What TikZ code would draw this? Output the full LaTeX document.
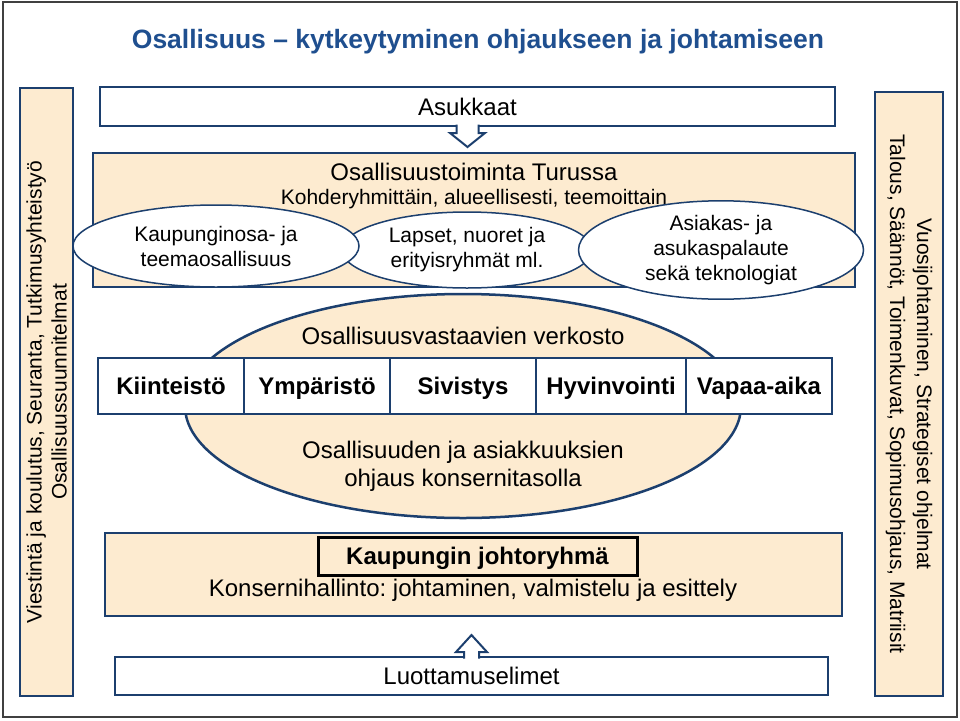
\documentclass[tikz,border=0pt]{standalone}
\usepackage{fontspec}
\setmainfont{Liberation Sans}
\usepackage{xcolor}
\definecolor{cLine}{HTML}{1C3F6E}
\definecolor{cTitle}{HTML}{1F4F8F}
\definecolor{cBeige}{HTML}{FDEBD0}
\definecolor{cFrame}{HTML}{404040}
\usepackage{tikz}
\usetikzlibrary{positioning,shapes.geometric,calc}
\newcommand{\fsSmall}{\fontsize{21}{25}\selectfont}
\newcommand{\fsMain}{\fontsize{24}{28}\selectfont}
\newcommand{\fsHead}{\fontsize{26.5}{30}\selectfont\bfseries}
\frenchspacing
\tikzset{
  box-plain/.style={draw=cLine,line width=2.5pt,fill=white,outer sep=0pt,
    inner sep=0pt,align=center,font=\fsMain},
  box-beige/.style={box-plain,fill=cBeige},
  node-oval/.style={ellipse,draw=cLine,line width=1.5pt,fill=white,
    inner sep=0pt,outer sep=0pt,align=center,font=\fsSmall},
  node-unit/.style={box-plain,minimum width=146pt,minimum height=56pt,
    text height=20pt,text depth=2.8pt,font=\fsMain\bfseries},
  node-text/.style={inner sep=0pt,align=center,font=\fsMain},
  arrow-hollow/.style={draw=cLine,line width=2pt,fill=white,line join=miter},
}
\begin{document}
\begin{tikzpicture}[x=1pt,y=-1pt,node distance=0pt]
  \useasboundingbox (0,0) rectangle (960,720);
  \draw[cFrame,line width=1.5pt] (3,2) rectangle (957,717);
  \node[node-text,font=\fsHead,text=cTitle] (title) at (478,42)
       {Osallisuus -- kytkeytyminen ohjaukseen ja johtamiseen};

  % sivupalkit
  \node[box-beige,rotate=90,minimum width=608pt,minimum height=53pt,
        font=\fsSmall] (lbar) at (46.5,392)
       {Viestintä ja koulutus, Seuranta, Tutkimusyhteistyö\\Osallisuussuunnitelmat};
  \node[box-beige,rotate=-90,minimum width=604pt,minimum height=68pt,
        font=\fontsize{21}{27}\selectfont] (rbar) at (909,394)
       {Vuosijohtaminen, Strategiset ohjelmat\\Talous, Säännöt, Toimenkuvat, Sopimusohjaus, Matriisit};

  % ylaosa
  \node[box-plain,minimum width=735pt,minimum height=39pt] (asuk) at (467.5,106.5) {Asukkaat};
  \node[box-beige,minimum width=762pt,minimum height=134pt] (toim) at (474,220) {};
  \node[node-text] (toim-title) at (474,172) {Osallisuustoiminta Turussa};
  \node[node-text,font=\fsSmall] (toim-sub) at (474,199)
       {Kohderyhmittäin, alueellisesti, teemoittain};
  \node[node-oval,minimum width=250pt,minimum height=76pt] (lapset) at (467,250)
       {Lapset, nuoret ja\\erityisryhmät ml.};
  \node[node-oval,minimum width=286pt,minimum height=82pt] (kaup) at (216,246)
       {Kaupunginosa- ja\\teemaosallisuus};
  \node[node-oval,minimum width=285pt,minimum height=91pt] (asiak) at (721,250)
       {Asiakas- ja\\asukaspalaute\\sekä teknologiat};
  \draw[arrow-hollow] ($(asuk.south)+(-11,-1.5)$) -- ++(0,8.5) -- ++(-6.5,0)
       -- ($(asuk.south |- toim.north)+(0,-6)$) -- ++(17.5,-14) -- ++(-6.5,0) -- ++(0,-8.5);

  % verkosto
  \node[ellipse,draw=cLine,line width=2.5pt,fill=cBeige,inner sep=0pt,
        minimum width=556pt,minimum height=224pt] (verk) at (463,406) {};
  \node[node-text] (verk-title) at (463,336) {Osallisuusvastaavien verkosto};
  \node[node-text] (verk-sub) at (463,466)
       {Osallisuuden ja asiakkuuksien\\ohjaus konsernitasolla};
  \node[node-unit] (kiin) at (171,386) {Kiinteistö};
  \node[node-unit,right=of kiin] (ymp) {Ympäristö};
  \node[node-unit,right=of ymp] (siv) {Sivistys};
  \node[node-unit,right=of siv,minimum width=150pt] (hyv) {Hyvinvointi};
  \node[node-unit,right=of hyv] (vap) {Vapaa-aika};

  % alaosa
  \node[box-beige,minimum width=737pt,minimum height=83pt] (konz) at (473.5,574.5) {};
  \node[box-beige,draw=black,line width=3pt,minimum width=319pt,minimum height=38pt,
        text height=20pt,text depth=2.8pt,font=\fsMain\bfseries] (johto) at (477.5,556)
       {Kaupungin johtoryhmä};
  \node[node-text] (konz-sub) at (473,590)
       {Konsernihallinto: johtaminen, valmistelu ja esittely};
  \node[box-plain,minimum width=713pt,minimum height=38pt] (luot) at (471.5,676) {Luottamuselimet};
  \draw[arrow-hollow] ($(luot.north)+(-7.5,1.5)$) -- ++(0,-6.5) -- ++(-8,0)
       -- ($(luot.north |- konz.south)+(0,19)$) -- ++(15.5,17) -- ++(-8,0) -- ++(0,6.5);
\end{tikzpicture}
\end{document}
